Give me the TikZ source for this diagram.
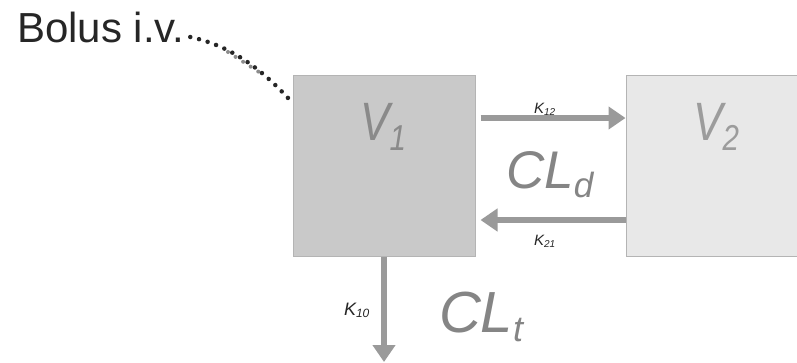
\documentclass[tikz,border=0pt]{standalone}
\usepackage{fontspec}
\setmainfont{Liberation Sans}
\usetikzlibrary{arrows.meta,calc}
\definecolor{boxone}{HTML}{C9C9C9}
\definecolor{boxtwo}{HTML}{E8E8E8}
\definecolor{boxedge}{HTML}{B4B4B4}
\definecolor{arrgrey}{HTML}{9A9A9A}
\definecolor{labgrey}{HTML}{8A8A8A}
\definecolor{cltext}{HTML}{858585}
\newcommand{\fs}[1]{\fontsize{#1}{#1}\selectfont}
\tikzset{
  comp/.style={draw=boxedge, line width=1pt, inner sep=0pt, minimum height=181pt},
  flow/.style={draw=arrgrey, line width=6pt, -{Triangle[length=17pt,width=22pt]}},
  txt/.style={inner sep=0pt, outer sep=0pt},
  klab/.style={txt, anchor=base west, font=\itshape\fs{15}, text=black!85},
  dots/.style={line width=4.5pt, line cap=round, dash pattern=on 0pt off 9pt}
}
\begin{document}
\begin{tikzpicture}[x=1pt,y=-1pt]
\useasboundingbox (0,0) rectangle (797,362);
\fill[white] (0,0) rectangle (797,362);
% compartments
\node[comp, fill=boxone, minimum width=182pt] (V1) at (384,165.5) {};
\node[comp, fill=boxtwo, minimum width=176pt] (V2) at (714,165.5) {};
% volume labels
\node[txt, anchor=base west, text=labgrey, font=\itshape\fs{54}] (lv1) at (360,140) {\scalebox{0.82}[1]{V\raisebox{-10pt}{\fs{36}1}}};
\node[txt, anchor=base west, text=labgrey!85, font=\itshape\fs{54}] (lv2) at (693,140) {\scalebox{0.82}[1]{V\raisebox{-10pt}{\fs{36}2}}};
% bolus
\node[txt, anchor=base west, text=black!85, font=\fs{42}] (bolus) at (17,42) {Bolus i.v.};
\draw[dots, black!45, line width=4pt] (228,52) -- (262,74);
\draw[dots, black!85] ([xshift=6pt,yshift=5pt]bolus.base east) .. controls (232,46) and (262,70) .. ([xshift=-4pt,yshift=-24pt]V1.north west);
% exchange arrows
\draw[flow] ([xshift=5pt,yshift=47.5pt]V1.east) -- ([yshift=47.5pt]V2.west);
\draw[flow] ([yshift=-54.5pt]V2.west) -- ([xshift=5pt,yshift=-54.5pt]V1.east);
\coordinate (out) at (384,362);
\draw[flow] (V1.south) -- (out);
% rate constant labels
\node[klab] (k12) at (534,113) {K\raisebox{-2pt}{\fs{10}12}};
\node[klab] (k21) at (534,245) {K\raisebox{-2pt}{\fs{10}21}};
\node[klab, font=\itshape\fs{18}] (k10) at (344,315) {K\raisebox{-2pt}{\fs{12}10}};
% clearance labels
\node[txt, anchor=base west, text=cltext, font=\itshape\fs{53}] (cld) at (506,188) {CL\raisebox{-9pt}{\fs{35}d}};
\node[txt, anchor=base west, text=cltext, font=\itshape\fs{58}] (clt) at (439,332) {CL\raisebox{-9pt}{\fs{36}t}};
\end{tikzpicture}
\end{document}
